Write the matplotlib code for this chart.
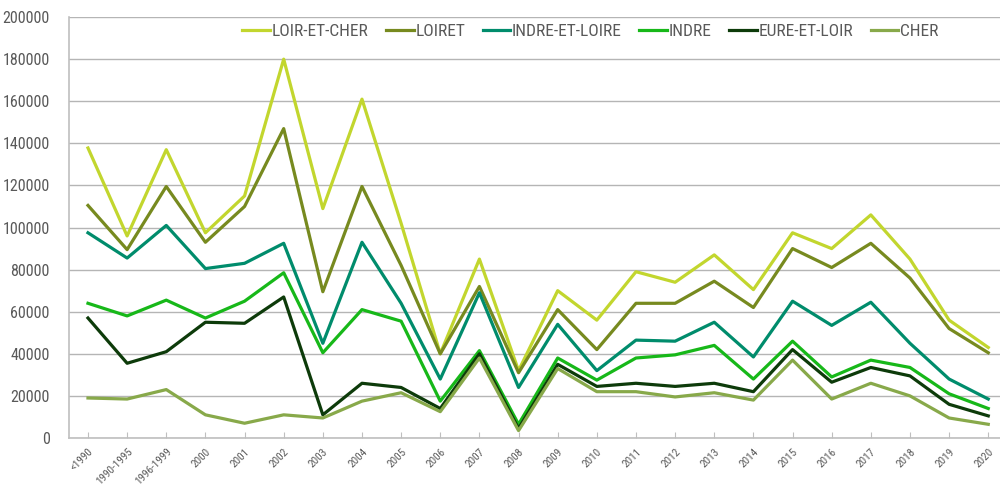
import matplotlib
matplotlib.use("Agg")
import matplotlib.pyplot as plt
from matplotlib import font_manager

categories = ["<1990", "1990-1995", "1996-1999", "2000", "2001", "2002", "2003",
              "2004", "2005", "2006", "2007", "2008", "2009", "2010", "2011",
              "2012", "2013", "2014", "2015", "2016", "2017", "2018", "2019", "2020"]

loir_et_cher = [137800, 96000, 137000, 97500, 115000, 180000, 109000, 161000,
                102000, 40000, 85000, 32000, 70000, 56000, 79000, 74000, 87000,
                70500, 97500, 90000, 106000, 85000, 56000, 43000]
loiret = [110500, 89500, 119500, 93000, 110000, 147000, 69500, 119500, 82000,
          40000, 72000, 31000, 61000, 42000, 64000, 64000, 74500, 62000, 90000,
          81000, 92500, 76000, 52000, 40500]
indre_et_loire = [97500, 85500, 101000, 80500, 83000, 92500, 45000, 93000, 64000,
                  28000, 69000, 24000, 54000, 32000, 46500, 46000, 55000, 38500,
                  65000, 53500, 64500, 45000, 28000, 18500]
indre = [64000, 58000, 65500, 57000, 65000, 78500, 40500, 61000, 55500, 17500,
         41500, 6500, 38000, 27500, 38000, 39500, 44000, 28000, 46000, 29000,
         37000, 33500, 21000, 14000]
eure_et_loir = [57000, 35500, 41000, 55000, 54500, 67000, 11000, 26000, 24000,
                14000, 40000, 4500, 35000, 24500, 26000, 24500, 26000, 22000,
                42000, 26500, 33500, 29500, 16000, 10500]
cher = [19000, 18500, 23000, 11000, 7000, 11000, 9500, 17500, 21500, 12500,
        38000, 3500, 33000, 22000, 22000, 19500, 21500, 18000, 37000, 18500,
        26000, 20000, 9500, 6500]

series = [
    ("LOIR-ET-CHER", loir_et_cher, "#c2d62e"),
    ("LOIRET", loiret, "#778a1f"),
    ("INDRE-ET-LOIRE", indre_et_loire, "#008c6c"),
    ("INDRE", indre, "#17b819"),
    ("EURE-ET-LOIR", eure_et_loir, "#0d3b0a"),
    ("CHER", cher, "#88a94a"),
]

# look for a narrow face, the original uses a condensed font
narrow = None
for f in font_manager.fontManager.ttflist:
    if f.stretch in ("condensed", "semi-condensed", "extra-condensed") or \
            "Narrow" in f.name or "Condensed" in f.name:
        narrow = f
        if "Liberation" in f.name or "Roboto" in f.name:
            break

if narrow is not None:
    plt.rcParams["font.family"] = [narrow.name, "DejaVu Sans"]
    plt.rcParams["font.stretch"] = narrow.stretch
    sizes = dict(y=11.5, x=8, legend=12.5)
else:
    plt.rcParams["font.family"] = ["DejaVu Sans"]
    sizes = dict(y=9.5, x=6.5, legend=10)

text_color = "#595959"

fig = plt.figure(figsize=(10, 4.88), dpi=100)
ax = fig.add_axes([0.069, 0.1025, 0.931, 0.8625])

x = list(range(len(categories)))
for name, values, color in series:
    ax.plot(x, values, color=color, linewidth=2.3, label=name)

ax.set_ylim(0, 200000)
ax.set_xlim(-0.485, 23.3)
ax.set_yticks(range(0, 200001, 20000))
ax.set_xticks(x)
ax.set_xticklabels(categories, rotation=45, ha="right", rotation_mode="anchor",
                   fontsize=sizes["x"], color=text_color)
ax.tick_params(axis="y", length=0, labelsize=sizes["y"], labelcolor=text_color, pad=14)
ax.tick_params(axis="x", direction="in", length=4, color="#bfbfbf", pad=6)

ax.grid(axis="y", color="#b5b5b5", linewidth=1)
ax.set_axisbelow(True)
for side in ["top", "right"]:
    ax.spines[side].set_visible(False)
for side in ["left", "bottom"]:
    ax.spines[side].set_color("#bfbfbf")
    ax.spines[side].set_linewidth(1.2)

ax.legend(loc="upper center", bbox_to_anchor=(0.56, 1.02), ncol=6,
          frameon=False, fontsize=sizes["legend"], handlelength=1.6,
          handletextpad=0.1, columnspacing=1.0, labelcolor=text_color)

fig.savefig("out.png", dpi=100)
